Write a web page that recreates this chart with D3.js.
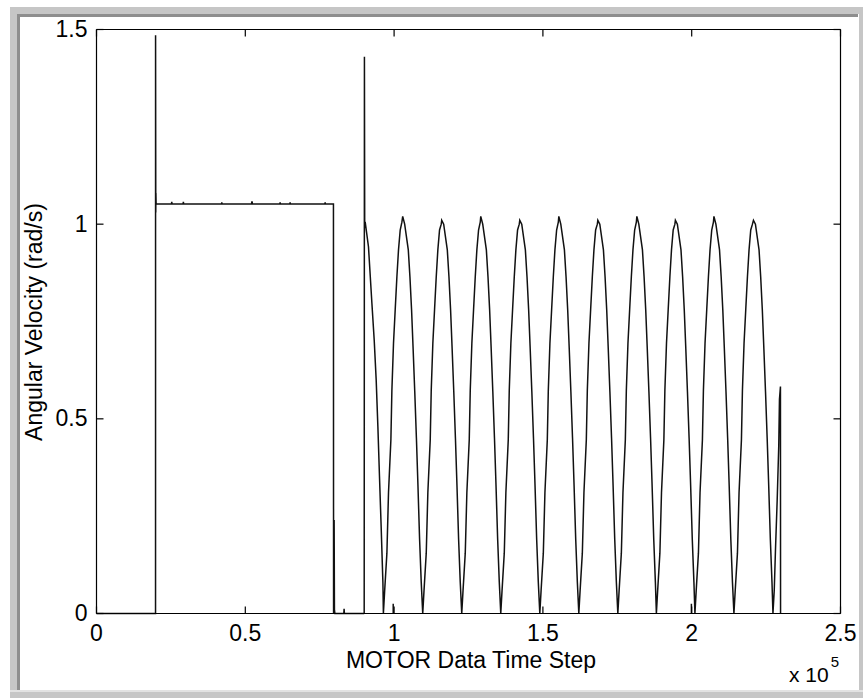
<!DOCTYPE html>
<html>
<head>
<meta charset="utf-8">
<script src="https://cdn.jsdelivr.net/npm/d3@7"></script>
<style>
  html, body { margin: 0; padding: 0; background: #ffffff; }
  svg { display: block; }
  text { font-family: "Liberation Sans", Arial, sans-serif; fill: #000; }
</style>
</head>
<body>
<svg id="chart" width="863" height="698"></svg>
<script>
// ---- data (time in units of 1e5 steps, angular velocity in rad/s) ----
const xTicks = [0, 0.5, 1, 1.5, 2, 2.5];
const xTickLabels = ["0", "0.5", "1", "1.5", "2", "2.5"];
const yTicks = [0, 0.5, 1, 1.5];
const yTickLabels = ["0", "0.5", "1", "1.5"];
const xLabel = "MOTOR Data Time Step";
const yLabel = "Angular Velocity (rad/s)";

// step hold phase
const holdPhase = [
  [0, 0], [0.1984, 0], [0.1985, 1.485], [0.1992, 1.03], [0.1996, 1.08], [0.2003, 1.052],
  [0.2519, 1.052], [0.2529, 1.057], [0.2539, 1.052],
  [0.2909, 1.052], [0.2919, 1.057], [0.2929, 1.052],
  [0.4200, 1.052], [0.4210, 1.056], [0.4220, 1.052],
  [0.5209, 1.052], [0.5219, 1.057], [0.5230, 1.057], [0.5240, 1.052],
  [0.6160, 1.052], [0.6170, 1.056], [0.6180, 1.052],
  [0.6496, 1.052], [0.6506, 1.056], [0.6516, 1.052],
  [0.7673, 1.052], [0.7683, 1.056], [0.7693, 1.052],
  [0.7962, 1.052], [0.7966, 0], [0.7985, 0.24], [0.7995, 0.01], [0.8010, 0],
  [0.8310, 0], [0.8320, 0.012], [0.8330, 0], [0.8995, 0]
];

// oscillation phase
const oscPhase = [
  [0.8995, 0], [0.9003, 1.43], [0.9012, 1.0], [0.9028, 1.006], [0.9139, 0.942], [0.9254, 0.797],
  [0.9331, 0.703], [0.9398, 0.60], [0.9455, 0.48], [0.9509, 0.352], [0.9566, 0.22], [0.9624, 0.079],
  [0.9640, 0],
  [0.9684, 0.06], [0.9758, 0.155], [0.9812, 0.31], [0.9892, 0.446], [0.9926, 0.574], [0.9980, 0.694],
  [1.0037, 0.78], [1.0094, 0.865], [1.0148, 0.934], [1.0205, 0.985], [1.0262, 1.005], [1.0289, 1.02],
  [1.0355, 1.0], [1.0477, 0.934], [1.0532, 0.865], [1.0587, 0.78], [1.0639, 0.68], [1.0694, 0.57],
  [1.0750, 0.45], [1.0801, 0.33], [1.0857, 0.19], [1.0912, 0.08], [1.0962, 0],
  [1.1006, 0.06], [1.1080, 0.155], [1.1134, 0.31], [1.1214, 0.446], [1.1248, 0.574], [1.1302, 0.694],
  [1.1359, 0.78], [1.1416, 0.865], [1.1470, 0.934], [1.1527, 0.985], [1.1584, 1.0], [1.1600, 1.01],
  [1.1666, 1.0], [1.1788, 0.934], [1.1843, 0.865], [1.1898, 0.78], [1.1950, 0.68], [1.2005, 0.57],
  [1.2061, 0.45], [1.2112, 0.33], [1.2168, 0.19], [1.2223, 0.08], [1.2273, 0],
  [1.2317, 0.06], [1.2391, 0.155], [1.2445, 0.31], [1.2525, 0.446], [1.2559, 0.574], [1.2613, 0.694],
  [1.2670, 0.78], [1.2727, 0.865], [1.2781, 0.934], [1.2838, 0.985], [1.2895, 1.005], [1.2912, 1.02],
  [1.2978, 1.0], [1.3100, 0.934], [1.3155, 0.865], [1.3210, 0.78], [1.3262, 0.68], [1.3317, 0.57],
  [1.3373, 0.45], [1.3424, 0.33], [1.3480, 0.19], [1.3535, 0.08], [1.3584, 0],
  [1.3628, 0.06], [1.3702, 0.155], [1.3756, 0.31], [1.3836, 0.446], [1.3870, 0.574], [1.3924, 0.694],
  [1.3981, 0.78], [1.4038, 0.865], [1.4092, 0.934], [1.4149, 0.985], [1.4206, 1.0], [1.4223, 1.01],
  [1.4289, 1.0], [1.4411, 0.934], [1.4466, 0.865], [1.4521, 0.78], [1.4573, 0.68], [1.4628, 0.57],
  [1.4684, 0.45], [1.4735, 0.33], [1.4791, 0.19], [1.4846, 0.08], [1.4896, 0],
  [1.4940, 0.06], [1.5014, 0.155], [1.5068, 0.31], [1.5148, 0.446], [1.5182, 0.574], [1.5236, 0.694],
  [1.5293, 0.78], [1.5350, 0.865], [1.5404, 0.934], [1.5461, 0.985], [1.5518, 1.005], [1.5535, 1.02],
  [1.5601, 1.0], [1.5723, 0.934], [1.5778, 0.865], [1.5833, 0.78], [1.5885, 0.68], [1.5940, 0.57],
  [1.5996, 0.45], [1.6047, 0.33], [1.6103, 0.19], [1.6158, 0.08], [1.6207, 0],
  [1.6251, 0.06], [1.6325, 0.155], [1.6379, 0.31], [1.6459, 0.446], [1.6493, 0.574], [1.6547, 0.694],
  [1.6604, 0.78], [1.6661, 0.865], [1.6715, 0.934], [1.6772, 0.985], [1.6829, 1.0], [1.6846, 1.01],
  [1.6912, 1.0], [1.7034, 0.934], [1.7089, 0.865], [1.7144, 0.78], [1.7196, 0.68], [1.7251, 0.57],
  [1.7307, 0.45], [1.7358, 0.33], [1.7414, 0.19], [1.7469, 0.08], [1.7518, 0],
  [1.7562, 0.06], [1.7636, 0.155], [1.7690, 0.31], [1.7770, 0.446], [1.7804, 0.574], [1.7858, 0.694],
  [1.7915, 0.78], [1.7972, 0.865], [1.8026, 0.934], [1.8083, 0.985], [1.8140, 1.005], [1.8157, 1.02],
  [1.8223, 1.0], [1.8345, 0.934], [1.8400, 0.865], [1.8455, 0.78], [1.8507, 0.68], [1.8562, 0.57],
  [1.8618, 0.45], [1.8669, 0.33], [1.8725, 0.19], [1.8780, 0.08], [1.8813, 0],
  [1.8857, 0.06], [1.8931, 0.155], [1.8985, 0.31], [1.9065, 0.446], [1.9099, 0.574], [1.9153, 0.694],
  [1.9210, 0.78], [1.9267, 0.865], [1.9321, 0.934], [1.9378, 0.985], [1.9435, 1.0], [1.9452, 1.01],
  [1.9518, 1.0], [1.9640, 0.934], [1.9695, 0.865], [1.9750, 0.78], [1.9802, 0.68], [1.9857, 0.57],
  [1.9913, 0.45], [1.9964, 0.33], [2.0020, 0.19], [2.0075, 0.08], [2.0108, 0],
  [2.0152, 0.06], [2.0226, 0.155], [2.0280, 0.31], [2.0360, 0.446], [2.0394, 0.574], [2.0448, 0.694],
  [2.0505, 0.78], [2.0562, 0.865], [2.0616, 0.934], [2.0673, 0.985], [2.0730, 1.005], [2.0747, 1.02],
  [2.0813, 1.0], [2.0935, 0.934], [2.0990, 0.865], [2.1045, 0.78], [2.1097, 0.68], [2.1152, 0.57],
  [2.1208, 0.45], [2.1259, 0.33], [2.1315, 0.19], [2.1370, 0.08], [2.1419, 0],
  [2.1463, 0.06], [2.1537, 0.155], [2.1591, 0.31], [2.1671, 0.446], [2.1705, 0.574], [2.1759, 0.694],
  [2.1816, 0.78], [2.1873, 0.865], [2.1927, 0.934], [2.1984, 0.985], [2.2041, 1.0], [2.2075, 1.01],
  [2.2141, 1.0], [2.2263, 0.934], [2.2318, 0.865], [2.2373, 0.78], [2.2425, 0.68], [2.2480, 0.57],
  [2.2536, 0.45], [2.2587, 0.33], [2.2643, 0.19], [2.2698, 0.08], [2.2730, 0],
  [2.2774, 0.06], [2.2815, 0.163], [2.2872, 0.29], [2.2925, 0.43], [2.2949, 0.55], [2.2982, 0.583],
  [2.2986, 0]
];

// short stray glitches near zero
const glitchT = [0.997, 1.999];
const glitchV = [0.025, 0.025];

// ---- layout ----
const svg = d3.select("#chart");
const W = 863, H = 698;
const m = { left: 96.5, right: 840.5, top: 29.5, bottom: 613.5 };

// window frame
svg.append("rect").attr("x", 0).attr("y", 0).attr("width", W).attr("height", H).attr("fill", "#ffffff");
svg.append("rect").attr("x", 10).attr("y", 7).attr("width", 849).attr("height", 7).attr("fill", "#c6c6c6");
svg.append("rect").attr("x", 10).attr("y", 7).attr("width", 7).attr("height", 683).attr("fill", "#c6c6c6");
svg.append("rect").attr("x", 17).attr("y", 14).attr("width", 841).attr("height", 3).attr("fill", "#8e8e8e");
svg.append("rect").attr("x", 17).attr("y", 14).attr("width", 3).attr("height", 676).attr("fill", "#8e8e8e");
svg.append("rect").attr("x", 859).attr("y", 7).attr("width", 4).attr("height", 691).attr("fill", "#c6c6c6");
svg.append("rect").attr("x", 10).attr("y", 690).attr("width", 853).attr("height", 2).attr("fill", "#e2e2e2");
svg.append("rect").attr("x", 10).attr("y", 692).attr("width", 853).attr("height", 6).attr("fill", "#c6c6c6");

const x = d3.scaleLinear().domain([0, 2.5]).range([m.left, m.right]);
const y = d3.scaleLinear().domain([0, 1.5]).range([m.bottom, m.top]);

const line = d3.line().x(d => x(d[0])).y(d => y(d[1]));

const plot = svg.append("g");
plot.append("path").datum(holdPhase).attr("d", line)
  .attr("fill", "none").attr("stroke", "#111").attr("stroke-width", 1.5);
plot.append("path").datum(oscPhase).attr("d", line)
  .attr("fill", "none").attr("stroke", "#111").attr("stroke-width", 1.5);
plot.selectAll("line.glitch").data(glitchT).enter().append("line")
  .attr("class", "glitch")
  .attr("x1", d => x(d)).attr("x2", d => x(d))
  .attr("y1", y(0)).attr("y2", (d, i) => y(glitchV[i]))
  .attr("stroke", "#111").attr("stroke-width", 1.5);

// axes box and ticks
const fmtX = (d, i) => xTickLabels[i];
const fmtY = (d, i) => yTickLabels[i];
const axB = svg.append("g").attr("transform", `translate(0,${m.bottom})`)
  .call(d3.axisBottom(x).offset(0).tickValues(xTicks).tickFormat(fmtX).tickSizeInner(-7).tickSizeOuter(0).tickPadding(11));
const axT = svg.append("g").attr("transform", `translate(0,${m.top})`)
  .call(d3.axisTop(x).offset(0).tickValues(xTicks).tickFormat("").tickSizeInner(-7).tickSizeOuter(0));
const axL = svg.append("g").attr("transform", `translate(${m.left},0)`)
  .call(d3.axisLeft(y).offset(0).tickValues(yTicks).tickFormat(fmtY).tickSizeInner(-7).tickSizeOuter(0).tickPadding(9));
const axR = svg.append("g").attr("transform", `translate(${m.right},0)`)
  .call(d3.axisRight(y).offset(0).tickValues(yTicks).tickFormat("").tickSizeInner(-7).tickSizeOuter(0));
[axB, axT, axL, axR].forEach(g => {
  g.selectAll("path.domain").attr("stroke", "#000").attr("stroke-width", 1.2);
  g.selectAll(".tick line").attr("stroke", "#000").attr("stroke-width", 1.2);
  g.selectAll(".tick text").attr("font-family", "'Liberation Sans', Arial, sans-serif")
    .attr("font-size", 23).attr("fill", "#000");
});

// axis labels
svg.append("text").attr("x", 471).attr("y", 668).attr("text-anchor", "middle")
  .attr("font-size", 23).text(xLabel);
svg.append("text").attr("transform", "translate(42,322) rotate(-90)").attr("text-anchor", "middle")
  .attr("font-size", 23).text(yLabel);

// exponent
const ex = svg.append("text").attr("x", 839).attr("y", 682).attr("text-anchor", "end").attr("font-size", 21);
ex.append("tspan").text("x 10");
ex.append("tspan").attr("dx", 2).attr("dy", -15).attr("font-size", 15).text("5");
</script>
</body>
</html>
